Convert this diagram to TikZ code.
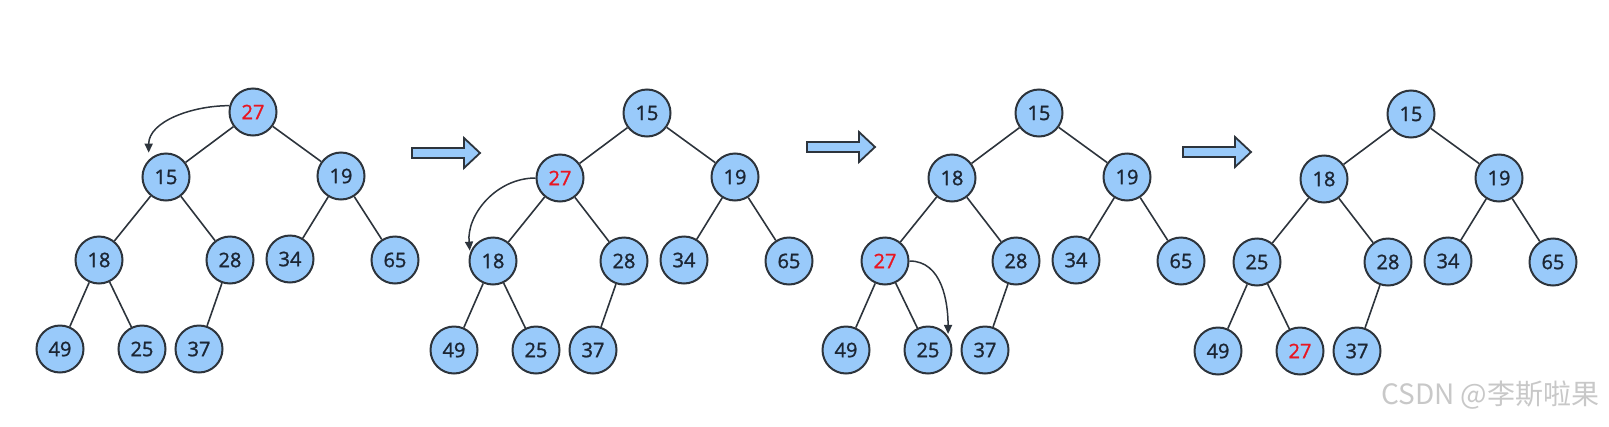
\documentclass[tikz,border=0pt]{standalone}
\usepackage{fontspec}
\setsansfont{Open Sans}[FakeBold=1.3]
\newfontfamily\cjkfont{Noto Sans CJK SC}
\usetikzlibrary{arrows.meta}
\definecolor{heapblue}{RGB}{153,202,250}
\definecolor{ringgrey}{RGB}{45,52,60}
\definecolor{digitnavy}{RGB}{28,38,52}
\definecolor{swapred}{RGB}{232,22,34}
\definecolor{markgrey}{RGB}{200,200,200}
\newcommand{\hot}[1]{\textcolor{swapred}{#1}}

\begin{document}
\begin{tikzpicture}[x=1pt,y=-1pt,
  key/.style={circle,draw=ringgrey,line width=2pt,fill=heapblue,minimum size=47pt,
    inner sep=0pt,text=digitnavy,font=\sffamily\fontsize{20}{20}\selectfont},
  link/.style={draw=ringgrey,line width=1.6pt},
  sift/.style={draw=ringgrey,line width=1.5pt,-{Triangle[length=9pt,width=8pt]}},
  nextarrow/.style={draw=ringgrey,line width=1.8pt,fill=heapblue,line join=miter}]
  \useasboundingbox (0,0) rectangle (1609,426);
  % four snapshots of the heap, same shape, keys listed level by level
  % data: tree / root x / root y / a b c d e f g h i j
  \foreach \t/\rx/\ry/\va/\vb/\vc/\vd/\ve/\vf/\vg/\vh/\vi/\vj in {
    1/253/112/\hot{27}/15/19/18/28/34/65/49/25/37,
    2/647/113/15/\hot{27}/19/18/28/34/65/49/25/37,
    3/1039/113/15/18/19/\hot{27}/28/34/65/49/25/37,
    4/1411/114/15/18/19/25/28/34/65/49/\hot{27}/37} {
    \node[key] (t\t-a) at (\rx,\ry) {\va};
    \node[key] (t\t-b) at (\rx-87,\ry+65) {\vb};
    \node[key] (t\t-c) at (\rx+88,\ry+64) {\vc};
    \node[key] (t\t-d) at (\rx-154,\ry+148) {\vd};
    \node[key] (t\t-e) at (\rx-23,\ry+148) {\ve};
    \node[key] (t\t-f) at (\rx+37,\ry+147) {\vf};
    \node[key] (t\t-g) at (\rx+142,\ry+148) {\vg};
    \node[key] (t\t-h) at (\rx-193,\ry+237) {\vh};
    \node[key] (t\t-i) at (\rx-111,\ry+237) {\vi};
    \node[key] (t\t-j) at (\rx-54,\ry+237) {\vj};
    \draw[link] (t\t-a) -- (t\t-b);
    \draw[link] (t\t-a) -- (t\t-c);
    \draw[link] (t\t-b) -- (t\t-d);
    \draw[link] (t\t-b) -- (t\t-e);
    \draw[link] (t\t-c) -- (t\t-f);
    \draw[link] (t\t-c) -- (t\t-g);
    \draw[link] (t\t-d) -- (t\t-h);
    \draw[link] (t\t-d) -- (t\t-i);
    \draw[link] (t\t-e) -- (t\t-j);
  }
  % block arrows between the snapshots
  \foreach \ax/\ay in {412/153, 807/147, 1183/152} {
    \filldraw[nextarrow] (\ax,\ay-5) -- ++(52,0) -- ++(0,-10) -- ++(16,15)
      -- ++(-16,15) -- ++(0,-10) -- ++(-52,0) -- cycle;
  }
  % sift-down moves of 27
  \draw[sift,shorten >=7pt] (t1-a.165) to[out=180,in=90] (t1-b.north west);
  \draw[sift,shorten >=2pt] (t2-b.west) to[out=180,in=95] (t2-d.160);
  \draw[sift,shorten >=2pt] (t3-d.east) to[out=0,in=90] (t3-i.35);
  % watermark
  \node[font=\cjkfont\fontsize{28}{28}\selectfont,text=markgrey,anchor=base east]
    (mark) at (1603,404) {CSDN @李斯啦果};
\end{tikzpicture}
\end{document}
